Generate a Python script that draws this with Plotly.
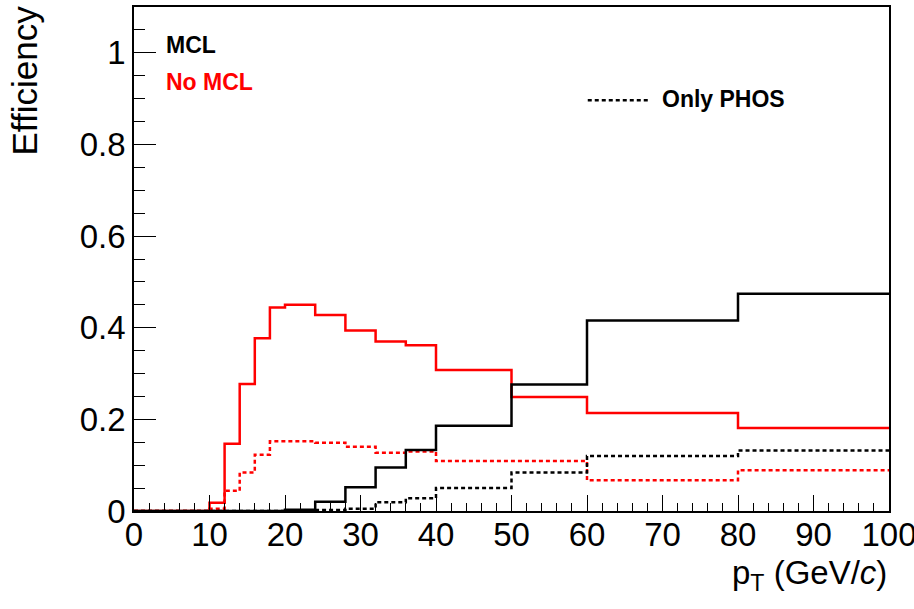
import plotly.graph_objects as go

# pT bin edges (GeV/c)
bin_edges = [0, 2, 4, 6, 8, 10, 12, 14, 16, 18, 20, 24, 28, 32, 36, 40, 50, 60, 80, 100]

# Efficiency per bin
eff_mcl = [0, 0, 0, 0, 0, 0, 0, 0, 0, 0,
           0.003, 0.020, 0.052, 0.095, 0.133, 0.186, 0.276, 0.416, 0.474]
eff_no_mcl = [0, 0, 0, 0, 0, 0.018, 0.147, 0.277, 0.377, 0.444,
              0.450, 0.428, 0.394, 0.370, 0.362, 0.308, 0.249, 0.214, 0.181]
eff_mcl_phos = [0, 0, 0, 0, 0, 0, 0, 0, 0, 0,
                0.001, 0.002, 0.005, 0.019, 0.028, 0.050, 0.084, 0.120, 0.132]
eff_no_mcl_phos = [0, 0, 0, 0, 0, 0.005, 0.044, 0.084, 0.123, 0.152,
                   0.152, 0.149, 0.140, 0.127, 0.130, 0.109, 0.109, 0.067, 0.089]

FONT = "Liberation Sans, Arial, Helvetica, sans-serif"
DOTS = "4px,3px"


def step_trace(values, color, dash):
    # histogram outline: repeat the last bin content so the final bin is closed
    ys = list(values) + [values[-1]]
    return go.Scatter(
        x=bin_edges, y=ys, mode="lines",
        line=dict(shape="hv", color=color, width=2.5, dash=dash),
        hoverinfo="skip", showlegend=False,
    )


fig = go.Figure()
fig.add_trace(step_trace(eff_no_mcl_phos, "#ff0000", DOTS))
fig.add_trace(step_trace(eff_mcl_phos, "#000000", DOTS))
fig.add_trace(step_trace(eff_no_mcl, "#ff0000", "solid"))
fig.add_trace(step_trace(eff_mcl, "#000000", "solid"))

axis_common = dict(
    showgrid=False, zeroline=False,
    showline=True, linecolor="black", linewidth=1.5, mirror=True,
    ticks="inside", tickcolor="black", tickwidth=1.2,
    tickfont=dict(family=FONT, size=33, color="black"),
    ticklabeloverflow="allow", automargin=False,
)

fig.update_layout(
    width=914, height=609,
    margin=dict(l=134, r=25, t=7, b=98, autoexpand=False),
    paper_bgcolor="white", plot_bgcolor="white",
    showlegend=False,
    xaxis=dict(range=[0, 100], dtick=10, tick0=0, ticklen=16,
               ticklabelstandoff=-6,
               minor=dict(ticks="inside", ticklen=8, dtick=2, tickcolor="black", tickwidth=1.2),
               **axis_common),
    yaxis=dict(range=[0, 1.1], dtick=0.2, tick0=0, ticklen=22,
               minor=dict(ticks="inside", ticklen=11, dtick=0.05, tickcolor="black", tickwidth=1.2),
               **axis_common),
)

# axis titles
fig.add_annotation(
    text="Efficiency", textangle=-90, showarrow=False,
    xref="paper", yref="paper", x=-0.145, y=1.006, xanchor="center", yanchor="top",
    font=dict(family=FONT, size=35, color="black"),
)
fig.add_annotation(
    text="p<sub>T</sub> (GeV/<i>c</i>)", showarrow=False,
    xref="paper", yref="paper", x=1.0, y=-0.082, xanchor="right", yanchor="top",
    font=dict(family=FONT, size=33, color="black"),
)

# legend labels
fig.add_annotation(
    text="<b>MCL</b>", showarrow=False, xref="paper", yref="paper",
    x=0.04, y=0.924, xanchor="left", yanchor="middle",
    font=dict(family=FONT, size=23, color="black"),
)
fig.add_annotation(
    text="<b>No MCL</b>", showarrow=False, xref="paper", yref="paper",
    x=0.04, y=0.851, xanchor="left", yanchor="middle",
    font=dict(family=FONT, size=23, color="#ff0000"),
)
fig.add_shape(
    type="line", xref="paper", yref="paper",
    x0=0.601, x1=0.681, y0=0.815, y1=0.815,
    line=dict(color="black", width=2.5, dash=DOTS),
)
fig.add_annotation(
    text="<b>Only PHOS</b>", showarrow=False, xref="paper", yref="paper",
    x=0.697, y=0.817, xanchor="left", yanchor="middle",
    font=dict(family=FONT, size=23, color="black"),
)

fig.write_html("out.html")
